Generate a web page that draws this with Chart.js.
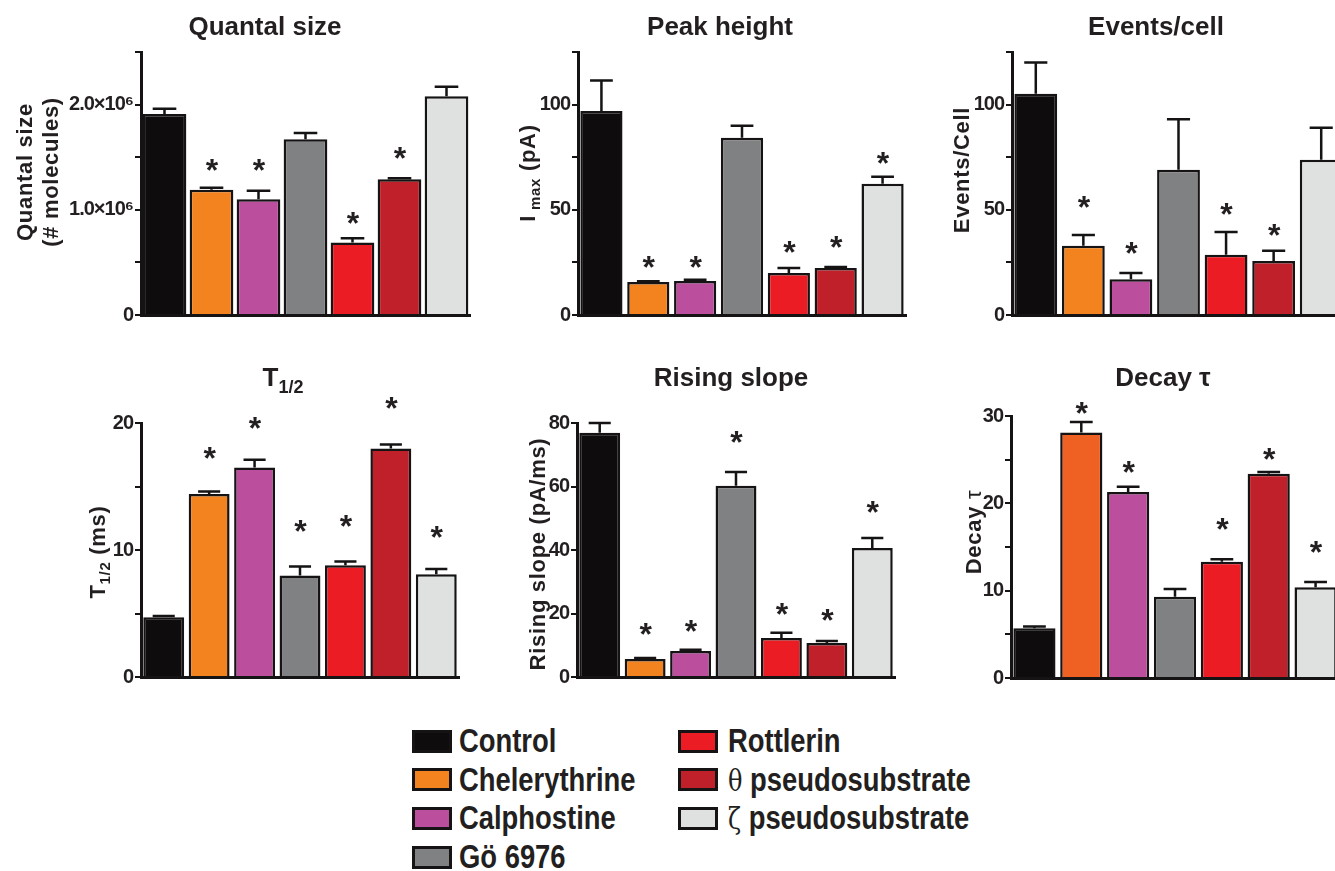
<!DOCTYPE html>
<html>
<head>
<meta charset="utf-8">
<title>PKC inhibitors - amperometric spike parameters</title>
<script src="https://cdn.jsdelivr.net/npm/chart.js@4.4.1/dist/chart.umd.min.js"></script>
<style>
    html, body { margin: 0; padding: 0; background: #fff; overflow: hidden; }
    body { width: 1335px; height: 871px; position: relative; font-family: "Liberation Sans", Arial, sans-serif; color: #231f20; }
    canvas { position: absolute; }
    .lg-item { position: absolute; display: flex; align-items: center; height: 30px; }
    .lg-swatch { width: 40px; height: 23px; box-sizing: border-box; border: 3px solid #151313; flex: none; }
    .lg-text { font-weight: bold; font-size: 33px; white-space: nowrap; transform: scaleX(0.83); transform-origin: left center; }
    .greek { font-family: "DejaVu Serif", "Liberation Serif", serif; font-weight: normal; font-size: 29px; }
</style>
</head>
<body>
<canvas id="c-quantal"></canvas>
<canvas id="c-peak"></canvas>
<canvas id="c-events"></canvas>
<canvas id="c-thalf"></canvas>
<canvas id="c-rising"></canvas>
<canvas id="c-decay"></canvas>
<div id="legend"></div>

<script>
/* ---------- data ---------- */
const categories = ['Control', 'Chelerythrine', 'Calphostine', 'Gö 6976', 'Rottlerin', 'θ pseudosubstrate', 'ζ pseudosubstrate'];
const barColors = ['#0e0c0c', '#f3831f', '#bb4f9d', '#808182', '#ec1c24', '#c0202a', '#dfe1e1'];
const decayBarColors = ['#0e0c0c', '#ee6123', '#bb4f9d', '#808182', '#ec1c24', '#c0202a', '#dfe1e1'];

// Quantal size (# molecules)
const quantalValues = [1.91e6, 1.19e6, 1.10e6, 1.67e6, 0.69e6, 1.29e6, 2.08e6];
const quantalSem    = [0.05e6, 0.02e6, 0.08e6, 0.06e6, 0.04e6, 0.01e6, 0.09e6];
const quantalStars  = [null, 1.43e6, 1.43e6, null, 0.92e6, 1.54e6, null];
const quantalTickValues = [0, 1e6, 2e6];
const quantalTickLabels = ['0', '1.0×10⁶', '2.0×10⁶'];

// Peak height, Imax (pA)
const peakValues = [97, 15.7, 16.2, 84.3, 20, 22.3, 62.4];
const peakSem    = [14.5, 0.4, 0.5, 5.7, 2.3, 0.5, 3.3];
const peakStars  = [null, 25.2, 25.2, null, 32.4, 34.8, 74.8];
const peakTickValues = [0, 50, 100];
const peakTickLabels = ['0', '50', '100'];

// Events / cell
const eventsValues = [105.2, 32.9, 17, 69, 28.6, 25.7, 73.8];
const eventsSem    = [14.8, 5.1, 3, 24, 10.9, 4.8, 15.2];
const eventsStars  = [null, 53.8, 31.9, null, 50.5, 40.5, null];
const eventsTickValues = [0, 50, 100];
const eventsTickLabels = ['0', '50', '100'];

// T1/2 (ms)
const thalfValues = [4.7, 14.4, 16.5, 8.0, 8.8, 18.0, 8.1];
const thalfSem    = [0.1, 0.2, 0.6, 0.7, 0.3, 0.3, 0.4];
const thalfStars  = [null, 17.6, 20.0, 11.9, 12.3, 21.6, 11.4];
const thalfTickValues = [0, 10, 20];
const thalfTickLabels = ['0', '10', '20'];

// Rising slope (pA/ms)
const risingValues = [76.9, 5.7, 8.2, 60.2, 12.3, 10.7, 40.6];
const risingSem    = [3.1, 0.3, 0.4, 4.4, 1.6, 0.6, 3.2];
const risingStars  = [null, 15.1, 16.1, 75.6, 21.4, 19.5, 53.5];
const risingTickValues = [0, 20, 40, 60, 80];
const risingTickLabels = ['0', '20', '40', '60', '80'];

// Decay tau
const decayValues = [5.7, 28.1, 21.3, 9.3, 13.3, 23.4, 10.4];
const decaySem    = [0.2, 1.2, 0.6, 0.9, 0.3, 0.2, 0.6];
const decayStars  = [null, 30.9, 24.2, null, 17.6, 25.7, 15.0];
const decayTickValues = [0, 10, 20, 30];
const decayTickLabels = ['0', '10', '20', '30'];

/* ---------- helpers ---------- */
const INK = '#151313';
const TEXT = '#231f20';
const FONT = '"Liberation Sans", Arial, sans-serif';

function seg(text, size, opts = {}) {
    return { text, size, weight: opts.weight || 'bold', dy: opts.dy || 0, family: opts.family || FONT };
}

// draws a run of mixed-size text centred on (cx, cy); rotated for y titles
function drawRich(ctx, segs, cx, cy, rotate, spacing) {
    ctx.save();
    ctx.translate(cx, cy);
    if (rotate) ctx.rotate(-Math.PI / 2);
    ctx.fillStyle = TEXT;
    ctx.textAlign = 'left';
    ctx.textBaseline = 'alphabetic';
    if ('letterSpacing' in ctx) ctx.letterSpacing = (spacing || 0) + 'px';
    let total = 0;
    const widths = segs.map(s => {
        ctx.font = `${s.weight} ${s.size}px ${s.family}`;
        const w = ctx.measureText(s.text).width;
        total += w;
        return w;
    });
    let x = -total / 2;
    const base = segs[0].size * 0.36;
    segs.forEach((s, i) => {
        ctx.font = `${s.weight} ${s.size}px ${s.family}`;
        ctx.fillText(s.text, x, base + s.dy);
        x += widths[i];
    });
    ctx.restore();
}

function makeExtras(cfg) {
    return {
        id: 'extras',
        beforeDraw(chart) {
            // tick labels in the figure are set tight
            if ('letterSpacing' in chart.ctx) chart.ctx.letterSpacing = '-1px';
        },
        afterDatasetsDraw(chart) {
            const ctx = chart.ctx;
            const y = chart.scales.y;
            const bars = chart.getDatasetMeta(0).data;
            ctx.save();
            // error bars (upper only)
            ctx.strokeStyle = INK;
            ctx.lineWidth = 2.5;
            bars.forEach((bar, i) => {
                const top = y.getPixelForValue(cfg.values[i] + cfg.sem[i]);
                const half = bar.width * 0.27;
                ctx.beginPath();
                ctx.moveTo(bar.x, bar.y);
                ctx.lineTo(bar.x, top);
                ctx.moveTo(bar.x - half, top);
                ctx.lineTo(bar.x + half, top);
                ctx.stroke();
            });
            // significance asterisks
            ctx.fillStyle = TEXT;
            ctx.textAlign = 'center';
            ctx.textBaseline = 'alphabetic';
            ctx.font = `bold 32px ${FONT}`;
            const m = ctx.measureText('*');
            const shift = (m.actualBoundingBoxAscent - m.actualBoundingBoxDescent) / 2;
            bars.forEach((bar, i) => {
                if (cfg.stars[i] == null) return;
                ctx.fillText('*', bar.x, y.getPixelForValue(cfg.stars[i]) + shift);
            });
            ctx.restore();
        },
        afterDraw(chart) {
            const ctx = chart.ctx;
            drawRich(ctx, cfg.title, cfg.titleX - cfg.left, cfg.titleY - cfg.top, false, 0);
            cfg.yTitles.forEach(t => {
                drawRich(ctx, t.segs, t.x - cfg.left, t.y - cfg.top, true, 0.7);
            });
        }
    };
}

function makePanel(id, cfg) {
    const canvas = document.getElementById(id);
    const plotW = cfg.pitch * categories.length;
    canvas.width = Math.round(cfg.axisX - cfg.left + plotW + 10);
    canvas.height = Math.round(cfg.axisBottom - cfg.top + 21);
    canvas.style.left = cfg.left + 'px';
    canvas.style.top = cfg.top + 'px';

    return new Chart(canvas, {
        type: 'bar',
        data: {
            labels: categories,
            datasets: [{
                data: cfg.values,
                backgroundColor: cfg.colors || barColors,
                borderColor: INK,
                borderWidth: 2.5,
                barPercentage: cfg.barPct || 0.9,
                categoryPercentage: 1
            }]
        },
        options: {
            responsive: false,
            animation: false,
            devicePixelRatio: 1,
            events: [],
            layout: { padding: { left: 0, top: cfg.axisTop - cfg.top, right: 10, bottom: 20 } },
            plugins: {
                legend: { display: false },
                tooltip: { enabled: false },
                title: { display: false }
            },
            scales: {
                x: {
                    type: 'category',
                    offset: true,
                    ticks: { display: false },
                    grid: { display: false, drawTicks: false },
                    border: { display: true, color: INK, width: 3 },
                    afterFit: s => { s.height = 1; }
                },
                y: {
                    min: 0,
                    max: cfg.max,
                    ticks: {
                        stepSize: cfg.step,
                        autoSkip: false,
                        color: TEXT,
                        padding: 2,
                        font: { family: FONT, weight: 'bold', size: 20 },
                        callback: v => {
                            const k = cfg.tickValues.findIndex(t => Math.abs(t - v) < cfg.step * 1e-6);
                            return k < 0 ? '' : cfg.tickLabels[k];
                        }
                    },
                    grid: { drawOnChartArea: false, drawTicks: true, tickLength: 6, color: INK, lineWidth: 2 },
                    border: { display: true, color: INK, width: 3 },
                    afterFit: s => { s.width = cfg.axisX - cfg.left; }
                }
            }
        },
        plugins: [makeExtras(cfg)]
    });
}

/* ---------- panels ---------- */
makePanel('c-quantal', {
    left: 0, top: 0, axisX: 141, axisTop: 52, axisBottom: 315, pitch: 47, barPct: 0.93,
    values: quantalValues, sem: quantalSem, stars: quantalStars,
    max: 2.5e6, step: 0.5e6, tickValues: quantalTickValues, tickLabels: quantalTickLabels,
    title: [seg('Quantal size', 26)], titleX: 265, titleY: 26,
    yTitles: [
        { segs: [seg('Quantal size', 22)], x: 24, y: 172 },
        { segs: [seg('(# molecules)', 22)], x: 50, y: 172 }
    ]
});

makePanel('c-peak', {
    left: 495, top: 0, axisX: 578, axisTop: 52, axisBottom: 315, pitch: 46.8,
    values: peakValues, sem: peakSem, stars: peakStars,
    max: 125, step: 25, tickValues: peakTickValues, tickLabels: peakTickLabels,
    title: [seg('Peak height', 26)], titleX: 720, titleY: 26,
    yTitles: [
        { segs: [seg('I', 22), seg(' max', 15, { dy: 5 }), seg(' (pA)', 22)], x: 527, y: 173 }
    ]
});

makePanel('c-events', {
    left: 925, top: 0, axisX: 1012, axisTop: 52, axisBottom: 315, pitch: 47.5,
    values: eventsValues, sem: eventsSem, stars: eventsStars,
    max: 125, step: 25, tickValues: eventsTickValues, tickLabels: eventsTickLabels,
    title: [seg('Events/cell', 26)], titleX: 1156, titleY: 26,
    yTitles: [
        { segs: [seg('Events/Cell', 22)], x: 961, y: 170 }
    ]
});

makePanel('c-thalf', {
    left: 0, top: 350, axisX: 141, axisTop: 423, axisBottom: 677, pitch: 45.4,
    values: thalfValues, sem: thalfSem, stars: thalfStars,
    max: 20, step: 5, tickValues: thalfTickValues, tickLabels: thalfTickLabels,
    title: [seg('T', 26), seg('1/2', 18, { dy: 7 })], titleX: 283, titleY: 377,
    yTitles: [
        { segs: [seg('T', 22), seg('1/2', 15, { dy: 5 }), seg(' (ms)', 22)], x: 97, y: 552 }
    ]
});

makePanel('c-rising', {
    left: 495, top: 350, axisX: 577, axisTop: 423, axisBottom: 677, pitch: 45.4,
    values: risingValues, sem: risingSem, stars: risingStars,
    max: 80, step: 20, tickValues: risingTickValues, tickLabels: risingTickLabels,
    title: [seg('Rising slope', 26)], titleX: 731, titleY: 377,
    yTitles: [
        { segs: [seg('Rising slope (pA/ms)', 22)], x: 537, y: 554 }
    ]
});

makePanel('c-decay', {
    left: 925, top: 350, axisX: 1011, axisTop: 416, axisBottom: 678, pitch: 46.8,
    values: decayValues, sem: decaySem, stars: decayStars, colors: decayBarColors,
    max: 30, step: 5, tickValues: decayTickValues, tickLabels: decayTickLabels,
    title: [seg('Decay τ', 26)], titleX: 1163, titleY: 377,
    yTitles: [
        { segs: [seg('Decay ', 22), seg('τ', 22, { weight: 'normal' })], x: 973, y: 532 }
    ]
});

/* ---------- legend (two columns) ---------- */
const legend = document.getElementById('legend');
const legendCols = [
    { swatchX: 412, gap: 7, items: [0, 1, 2, 3] },
    { swatchX: 678, gap: 10, items: [4, 5, 6] }
];
legendCols.forEach(col => {
    col.items.forEach((idx, row) => {
        const item = document.createElement('div');
        item.className = 'lg-item';
        item.style.left = col.swatchX + 'px';
        item.style.top = (741 + row * 38.7 - 15) + 'px';

        const sw = document.createElement('div');
        sw.className = 'lg-swatch';
        sw.style.background = barColors[idx];
        item.appendChild(sw);

        const txt = document.createElement('span');
        txt.className = 'lg-text';
        txt.style.marginLeft = col.gap + 'px';
        const name = categories[idx];
        const greek = name.match(/^([θζ])\s(.*)$/);
        if (greek) {
            txt.innerHTML = `<span class="greek">${greek[1]}</span> ${greek[2]}`;
        } else {
            txt.textContent = name;
        }
        item.appendChild(txt);
        legend.appendChild(item);
    });
});
</script>
</body>
</html>
